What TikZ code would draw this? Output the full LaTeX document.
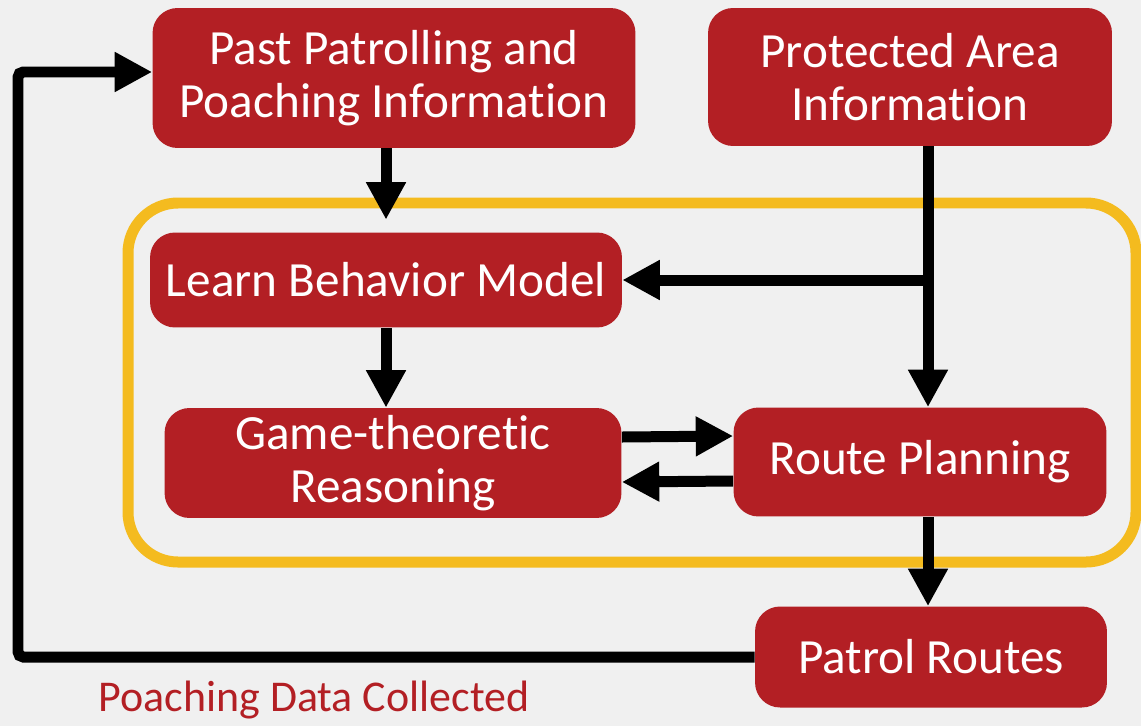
\documentclass[tikz,border=0pt]{standalone}
\usepackage{fontspec}
\setmainfont{Carlito}[Ligatures={NoCommon,NoRare,NoContextual}, Contextuals=NoAlternate]
\usetikzlibrary{arrows.meta}
\definecolor{boxred}{HTML}{B31F24}
\definecolor{frameyellow}{HTML}{F4BB1F}
\definecolor{bggray}{HTML}{F0F0F0}

\begin{document}
\begin{tikzpicture}[x=0.02cm, y=-0.02cm,
        block/.style={fill=boxred, text=white, rounded corners=0.5cm, align=center,
            inner sep=0pt, font=\fontsize{28}{30}\selectfont},
        flow/.style={line width=0.22cm, -{Triangle[length=0.75cm,width=0.75cm]}}]

        \fill[bggray] (0,0) rectangle (1141,726);
        \useasboundingbox (0,0) rectangle (1141,726);

        \draw[frameyellow, line width=0.22cm, rounded corners=1cm] (128,203) rectangle (1136,562);

        \node (past) [block, minimum width=9.66cm, minimum height=2.8cm] at (394,78) {Past Patrolling and\\Poaching Information};
        \node (protected) [block, minimum width=8.08cm, minimum height=2.76cm] at (910,77) {Protected Area\\Information};
        \node (learn) [block, minimum width=9.44cm, minimum height=1.9cm] at (386,280) {Learn Behavior Model};
        \node (game) [block, minimum width=9.14cm, minimum height=2.2cm] at (393,463) {Game-theoretic\\Reasoning};
        \node (route) [block, minimum width=7.46cm, minimum height=2.18cm] at (920,462) {Route Planning};
        \node (patrol) [block, minimum width=7.04cm, minimum height=2.02cm] at (931,657) {Patrol Routes};
        \node (caption) [text=boxred, font=\fontsize{25}{27}\selectfont] at (314,700) {Poaching Data Collected};

        \coordinate (split) at (928,280);
        \coordinate (loop) at (18,400);

        \draw[flow, shorten >=0.25cm] (past.south -| learn.north) -- (learn.north);
        \draw[line width=0.22cm] (protected.south -| split) -- (split);
        \draw[flow] (split) -- (route.north -| split);
        \draw[flow] (split) -- (learn.east);
        \draw[flow] (learn.south) -- (game.north -| learn.south);
        \draw[flow] ([yshift=0.52cm]game.east) -- ([yshift=0.52cm]route.west);
        \draw[flow] ([yshift=-0.38cm]route.west) -- ([yshift=-0.38cm]game.east);
        \draw[flow] (route.south -| split) -- (patrol.north -| split);
        \draw[flow, rounded corners=3pt] (patrol.west) -| (loop) |- ([yshift=0.12cm]past.west);

    \end{tikzpicture}
\end{document}
